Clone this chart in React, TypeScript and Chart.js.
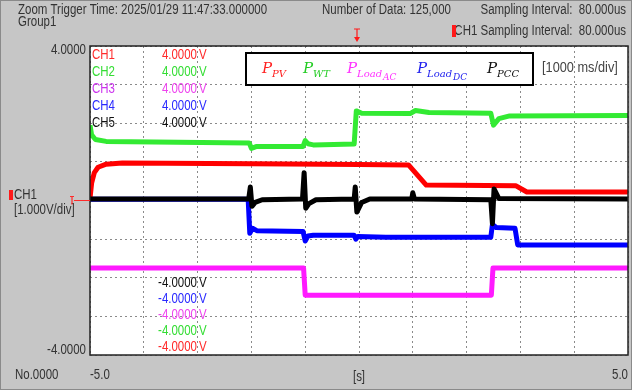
import React, { useEffect, useRef } from "react";
import { Chart, registerables } from "chart.js";
Chart.register(...registerables);

// ---- data (time in s, value in V at 1 V/div) ----
const timeMin = -5;
const timeMax = 5;
const voltMin = -4;
const voltMax = 4;

const pvTime = [-5, -4.97, -4.92, -4.85, -4.7, -4.4, -2.0, 0.0, 0.92, 1.25, 2.92, 3.12, 5];
const pvValue = [0.05, 0.45, 0.72, 0.86, 0.94, 0.97, 0.95, 0.93, 0.92, 0.4, 0.38, 0.22, 0.22];

const wtTime = [-5, -4.97, -4.9, -4.7, -2.04, -2.0, -1.9, -1.04, -1.0, -0.95, -0.85, -0.09, -0.05, 0.05, 0.95, 1.05, 1.3, 2.45, 2.5, 2.6, 2.8, 5];
const wtValue = [1.95, 1.7, 1.58, 1.53, 1.49, 1.35, 1.4, 1.4, 1.55, 1.47, 1.44, 1.46, 2.32, 2.26, 2.25, 2.33, 2.28, 2.26, 1.95, 2.12, 2.19, 2.2];

const loadAcTime = [-5, -1.03, -1.0, 2.46, 2.49, 5];
const loadAcValue = [-1.75, -1.75, -2.45, -2.45, -1.75, -1.75];

const loadDcTime = [-5, -2.06, -2.03, -1.98, -1.9, -1.04, -1.0, -0.95, -0.85, -0.09, -0.06, -0.02, 0.5, 2.45, 2.48, 2.55, 2.9, 2.95, 5];
const loadDcValue = [0.03, 0.03, -0.85, -0.72, -0.78, -0.8, -1.05, -0.92, -0.9, -0.9, -1.0, -0.93, -0.95, -0.95, -0.62, -0.7, -0.72, -1.15, -1.15];

const pccTime = [-5, -2.05, -2.02, -1.99, -1.93, -1.8, -1.05, -1.02, -0.99, -0.93, -0.8, -0.09, -0.07, -0.04, 0.05, 0.2, 0.98, 1.0, 1.03, 2.45, 2.48, 2.51, 2.6, 5];
const pccValue = [0.04, 0.04, 0.35, -0.15, -0.05, 0.02, 0.04, 0.72, -0.2, -0.08, 0.02, 0.04, 0.35, -0.3, -0.05, 0.04, 0.04, 0.2, 0.04, 0.02, -0.6, 0.3, 0.05, 0.04];

const channelNames = ["CH1", "CH2", "CH3", "CH4", "CH5"];
const channelColors = ["#ff2a2a", "#33dd33", "#cc33ee", "#2a2aff", "#111111"];
const valueColors = ["#ff2a2a", "#33dd33", "#ee44ee", "#2a2aff", "#111111"];
const upperLabel = "4.0000";
const lowerLabel = "-4.0000";
const bottomOrder = [4, 3, 2, 1, 0];

const toPoints = (t: number[], v: number[]) => t.map((x, i) => ({ x, y: v[i] }));

const SANS = '"Liberation Sans", Arial, sans-serif';

function txt(
  ctx: CanvasRenderingContext2D,
  s: string,
  x: number,
  y: number,
  color: string,
  size = 14,
  align: CanvasTextAlign = "left",
  sx = 0.82,
  font = SANS,
  style = ""
) {
  ctx.save();
  ctx.font = `${style} ${size}px ${font}`;
  ctx.fillStyle = color;
  ctx.textBaseline = "middle";
  ctx.textAlign = align;
  ctx.translate(x, y);
  ctx.scale(sx, 1);
  ctx.fillText(s, 0, 0);
  ctx.restore();
}

const decorPlugin = {
  id: "decor",
  beforeDraw(chart: any) {
    const { ctx, chartArea: a, width, height } = chart;
    ctx.save();
    ctx.fillStyle = "#c6c6c6";
    ctx.fillRect(0, 0, width, height);
    ctx.strokeStyle = "#8a8a8a";
    ctx.lineWidth = 1;
    ctx.strokeRect(0.5, 0.5, width - 1, height - 1);
    ctx.fillStyle = "#ffffff";
    ctx.fillRect(a.left, a.top, a.right - a.left, a.bottom - a.top);
    ctx.restore();
  },
  afterDatasetsDraw(chart: any) {
    const { ctx, chartArea: a } = chart;
    const xs = chart.scales.x;
    const ys = chart.scales.y;
    // frame
    ctx.save();
    ctx.strokeStyle = "#222222";
    ctx.lineWidth = 1.5;
    ctx.strokeRect(a.left, a.top, a.right - a.left, a.bottom - a.top);
    ctx.restore();

    // header
    txt(ctx, "Zoom Trigger Time: 2025/01/29 11:47:33.000000", 18, 10, "#333");
    txt(ctx, "Group1", 18, 22, "#333");
    txt(ctx, "Number of Data: 125,000", 322, 10, "#333");
    txt(ctx, "Sampling Interval:  80.000us", 626, 10, "#333", 14, "right");
    txt(ctx, "CH1 Sampling Interval:  80.000us", 626, 31, "#333", 14, "right");
    ctx.save();
    ctx.fillStyle = "#ff1a1a";
    ctx.fillRect(452, 25, 4, 12);
    ctx.restore();

    // trigger marker
    const tx = xs.getPixelForValue(0) - 2;
    ctx.save();
    ctx.strokeStyle = "#ff1a1a";
    ctx.fillStyle = "#ff1a1a";
    ctx.lineWidth = 1.2;
    ctx.beginPath();
    ctx.moveTo(tx - 3, 29);
    ctx.lineTo(tx + 3, 29);
    ctx.moveTo(tx, 29);
    ctx.lineTo(tx, 37);
    ctx.stroke();
    ctx.beginPath();
    ctx.moveTo(tx - 3, 37);
    ctx.lineTo(tx + 3, 37);
    ctx.lineTo(tx, 42);
    ctx.closePath();
    ctx.fill();
    ctx.restore();

    // y labels
    txt(ctx, upperLabel, 86, 50, "#333", 14, "right");
    txt(ctx, lowerLabel, 86, 350, "#333", 14, "right");

    // left CH1 info
    ctx.save();
    ctx.fillStyle = "#ff1a1a";
    ctx.fillRect(9, 190, 4, 10);
    ctx.restore();
    txt(ctx, "CH1", 14, 195, "#333");
    txt(ctx, "[1.000V/div]", 14, 210, "#333");
    // zero marker
    const zy = ys.getPixelForValue(0);
    ctx.save();
    ctx.strokeStyle = "#ff2a2a";
    ctx.lineWidth = 1.2;
    ctx.beginPath();
    ctx.moveTo(72, zy - 4);
    ctx.lineTo(72, zy + 4);
    ctx.moveTo(70, zy - 4);
    ctx.lineTo(74, zy - 4);
    ctx.moveTo(74, zy);
    ctx.lineTo(a.left, zy);
    ctx.stroke();
    ctx.restore();

    // bottom
    txt(ctx, "No.0000", 15, 375, "#333");
    txt(ctx, "-5.0", a.left, 375, "#333");
    txt(ctx, "[s]", xs.getPixelForValue(0), 377, "#333", 14, "center");
    txt(ctx, "5.0", a.right, 375, "#333", 14, "right");

    // channel labels
    channelNames.forEach((n, i) => {
      const y = 55 + i * 17;
      txt(ctx, n, 92, y, channelColors[i]);
      txt(ctx, upperLabel, 197, y, valueColors[i], 14, "right");
      txt(ctx, "V", 199, y, valueColors[i]);
    });
    bottomOrder.forEach((ci, k) => {
      const y = 283 + k * 16;
      txt(ctx, lowerLabel, 197, y, valueColors[ci], 14, "right");
      txt(ctx, "V", 199, y, valueColors[ci]);
    });

    // time/div
    txt(ctx, "[1000 ms/div]", 542, 68, "#444", 15, "left", 0.85);

    // legend box
    ctx.save();
    ctx.fillStyle = "#ffffff";
    ctx.fillRect(246, 53, 287, 32);
    ctx.strokeStyle = "#000";
    ctx.lineWidth = 2;
    ctx.strokeRect(246, 53, 287, 32);
    ctx.restore();
    const SER = '"DejaVu Serif", "Liberation Serif", serif';
    const item = (x: number, color: string, sub: string, subsub?: string) => {
      txt(ctx, "P", x, 69, color, 15, "left", 1, SER, "italic");
      ctx.save();
      ctx.font = `italic 15px ${SER}`;
      const pw = ctx.measureText("P").width;
      ctx.font = `italic 10px ${SER}`;
      const sw = ctx.measureText(sub).width;
      ctx.restore();
      txt(ctx, sub, x + pw, 74, color, 10, "left", 1, SER, "italic");
      if (subsub) txt(ctx, subsub, x + pw + sw + 1, 78, color, 9, "left", 1, SER, "italic");
    };
    item(262, "#ff2020", "PV");
    item(303, "#22cc22", "WT");
    item(347, "#ff33ff", "Load", "AC");
    item(417, "#2222ee", "Load", "DC");
    item(487, "#111111", "PCC");
  },
};

export default function App() {
  const ref = useRef<HTMLCanvasElement | null>(null);
  useEffect(() => {
    if (!ref.current) return;
    const mk = (label: string, t: number[], v: number[], color: string) => ({
      label,
      data: toPoints(t, v),
      borderColor: color,
      backgroundColor: color,
      borderWidth: 5,
      borderJoinStyle: "round",
      borderCapStyle: "butt",
      pointRadius: 0,
      tension: 0,
      fill: false,
    });
    const chart = new Chart(ref.current, {
      type: "line",
      data: {
        datasets: [
          mk("P_PCC", pccTime, pccValue, "#000000"),
          mk("P_PV", pvTime, pvValue, "#ff0000"),
          mk("P_WT", wtTime, wtValue, "#33ea33"),
          mk("P_Load_AC", loadAcTime, loadAcValue, "#ff1aff"),
          mk("P_Load_DC", loadDcTime, loadDcValue, "#0000ff"),
        ],
      },
      options: {
        responsive: false,
        animation: false,
        layout: { padding: { left: 90, right: 4, top: 46, bottom: 35 } },
        plugins: { legend: { display: false }, tooltip: { enabled: false }, title: { display: false } },
        scales: {
          x: {
            type: "linear",
            min: timeMin,
            max: timeMax,
            ticks: { display: false, stepSize: 1 },
            grid: { color: "#8a8a8a", lineWidth: 1, drawTicks: false },
            border: { display: false, dash: [2, 3] },
            afterFit: (s: any) => {
              s.height = 0;
            },
          },
          y: {
            type: "linear",
            min: voltMin,
            max: voltMax,
            ticks: { display: false, stepSize: 1 },
            grid: { color: "#8a8a8a", lineWidth: 1, drawTicks: false },
            border: { display: false, dash: [2, 3] },
            afterFit: (s: any) => {
              s.width = 0;
            },
          },
        },
      } as any,
      plugins: [decorPlugin],
    });
    return () => chart.destroy();
  }, []);
  return (
    <div style={{ position: "fixed", left: 0, top: 0, width: 632, height: 390 }}>
      <canvas ref={ref} width={632} height={390} />
    </div>
  );
}
